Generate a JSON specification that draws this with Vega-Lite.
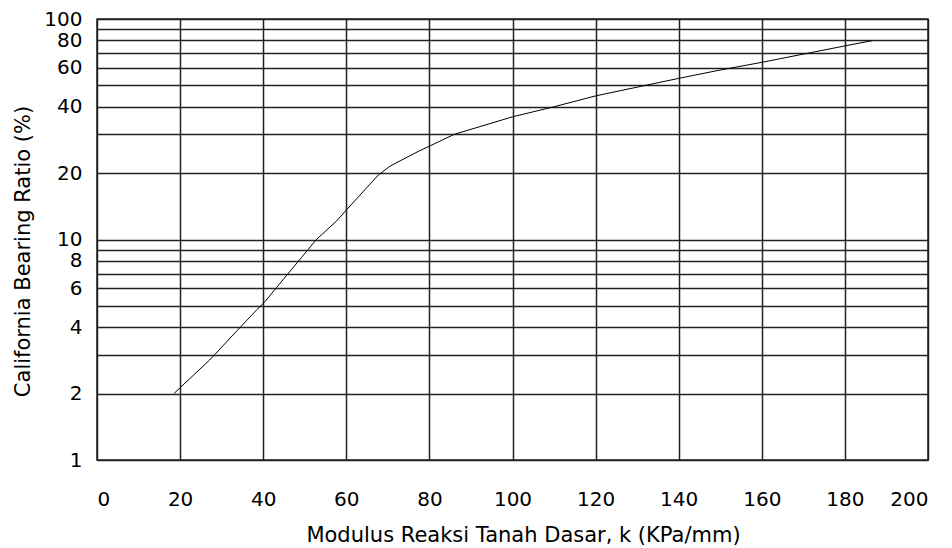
{
  "$schema": "https://vega.github.io/schema/vega-lite/v6.json",
  "width": 831,
  "height": 441,
  "autosize": {"type": "none"},
  "padding": {"left": 97, "top": 19, "right": 24, "bottom": 88},
  "background": "white",
  "config": {
    "view": {"stroke": "#222", "strokeWidth": 1.5},
    "font": "DejaVu Sans",
    "axis": {
      "grid": true,
      "gridColor": "#222",
      "gridOpacity": 1,
      "gridWidth": 1.5,
      "domain": false,
      "ticks": false,
      "tickSize": 0,
      "labelFont": "DejaVu Sans",
      "labelFontSize": 20,
      "labelColor": "#000",
      "titleFont": "DejaVu Sans",
      "titleFontSize": 21,
      "titleFontWeight": "normal",
      "titleColor": "#000"
    }
  },
  "data": {
    "values": [
      {"k": 18.5, "cbr": 2.0},
      {"k": 27.1, "cbr": 2.84},
      {"k": 33.5, "cbr": 3.82},
      {"k": 38.4, "cbr": 4.79},
      {"k": 40.4, "cbr": 5.22},
      {"k": 43.2, "cbr": 6.05},
      {"k": 45.6, "cbr": 6.86},
      {"k": 49.2, "cbr": 8.28},
      {"k": 52.8, "cbr": 10.0},
      {"k": 57.6, "cbr": 12.1},
      {"k": 60, "cbr": 13.6},
      {"k": 63.3, "cbr": 15.9},
      {"k": 67.7, "cbr": 19.6},
      {"k": 70.5, "cbr": 21.5},
      {"k": 74.8, "cbr": 23.7},
      {"k": 77.7, "cbr": 25.3},
      {"k": 80, "cbr": 26.5},
      {"k": 86, "cbr": 30.0},
      {"k": 100, "cbr": 36.0},
      {"k": 110, "cbr": 40.0},
      {"k": 120, "cbr": 44.8},
      {"k": 132, "cbr": 50.0},
      {"k": 140, "cbr": 53.8},
      {"k": 150, "cbr": 58.7},
      {"k": 160, "cbr": 63.6},
      {"k": 171, "cbr": 69.9},
      {"k": 180, "cbr": 75.5},
      {"k": 186.6, "cbr": 79.8}
    ]
  },
  "mark": {"type": "line", "color": "#000", "strokeWidth": 1},
  "encoding": {
    "x": {
      "field": "k",
      "type": "quantitative",
      "scale": {"domain": [0, 200], "nice": false, "zero": false},
      "axis": {
        "values": [0, 20, 40, 60, 80, 100, 120, 140, 160, 180, 200],
        "labelPadding": 29,
        "labelBaseline": "top",
        "title": "Modulus Reaksi Tanah Dasar, k (KPa/mm)",
        "titleX": 426,
        "titleY": 75,
        "titleBaseline": "middle",
        "titleAlign": "center"
      }
    },
    "y": {
      "field": "cbr",
      "type": "quantitative",
      "scale": {"type": "log", "domain": [1, 100], "nice": false},
      "axis": {
        "values": [1, 2, 3, 4, 5, 6, 7, 8, 9, 10, 20, 30, 40, 50, 60, 70, 80, 90, 100],
        "labelExpr": "indexof([1,2,4,6,8,10,20,40,60,80,100], datum.value) >= 0 ? datum.label : ''",
        "labelPadding": 15,
        "labelBaseline": "middle",
        "title": "California Bearing Ratio (%)",
        "titleX": -74,
        "titleY": 232,
        "titleAngle": -90,
        "titleBaseline": "middle",
        "titleAlign": "center"
      }
    }
  }
}
